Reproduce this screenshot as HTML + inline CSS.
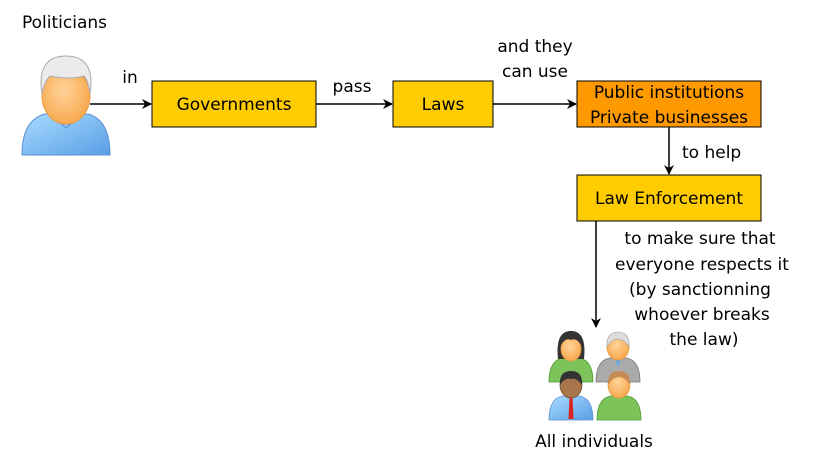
<!DOCTYPE html>
<html><head><style>body{margin:0;background:#fff}svg{display:block}text{font-family:"DejaVu Sans","Liberation Sans",sans-serif;font-size:17px;fill:#000}</style></head><body>
<svg width="815" height="472" viewBox="0 0 815 472">
<defs>
<marker id="a" markerWidth="10" markerHeight="10" refX="9" refY="5" orient="auto" markerUnits="userSpaceOnUse"><path d="M0,0 L10,5 L0,10 L3,5z" fill="#000"/></marker>
<linearGradient id="sh" x1="0" y1="0" x2="1" y2="1"><stop offset="0" stop-color="#a8dcff"/><stop offset="1" stop-color="#5a9ee6"/></linearGradient>
<radialGradient id="fc" cx="0.45" cy="0.4" r="0.6"><stop offset="0" stop-color="#ffd39a"/><stop offset="1" stop-color="#f8a94e"/></radialGradient>
</defs>
<text x="22" y="28">Politicians</text>
<path d="M22,155 Q22,120 45,114 L88,114 Q110,120 110,155z" fill="url(#sh)" stroke="#5a8fd0"/>
<path d="M50,114 L66,128 L82,114" fill="#8cc6f5" stroke="#5a8fd0"/>
<ellipse cx="66" cy="96" rx="24" ry="28" fill="url(#fc)" stroke="#e89a40"/>
<path d="M42,94 Q36,56 66,56 Q96,56 90,94 Q88,80 84,76 Q70,80 50,76 Q44,82 42,94z" fill="#ebebeb" stroke="#aaa"/>
<g stroke="#000" stroke-width="1.5" fill="none">
<line x1="90" y1="104" x2="151" y2="104" marker-end="url(#a)"/>
<line x1="316" y1="104" x2="392" y2="104" marker-end="url(#a)"/>
<line x1="493" y1="104" x2="576" y2="104" marker-end="url(#a)"/>
<line x1="669" y1="127" x2="669" y2="174" marker-end="url(#a)"/>
<line x1="596" y1="221" x2="596" y2="327" marker-end="url(#a)"/>
</g>
<rect x="152" y="81" width="164" height="46" fill="#ffcc00" stroke="#000"/>
<rect x="393" y="81" width="100" height="46" fill="#ffcc00" stroke="#000"/>
<rect x="577" y="81" width="184" height="46" fill="#ff9900" stroke="#000"/>
<rect x="577" y="175" width="184" height="46" fill="#ffcc00" stroke="#000"/>
<g text-anchor="middle">
<text x="234" y="110">Governments</text>
<text x="443" y="110">Laws</text>
<text x="669" y="98">Public institutions</text>
<text x="669" y="123">Private businesses</text>
<text x="669" y="204">Law Enforcement</text>
<text x="130" y="83">in</text>
<text x="352" y="92">pass</text>
<text x="535" y="52">and they</text>
<text x="535" y="77">can use</text>
<text x="700" y="244">to make sure that</text>
<text x="702" y="270">everyone respects it</text>
<text x="700" y="295">(by sanctionning</text>
<text x="702" y="320">whoever breaks</text>
<text x="704" y="345">the law)</text>
<text x="594" y="447">All individuals</text>
</g>
<text x="682" y="158">to help</text>
<!-- group -->
<g transform="translate(571,355)"><path d="M-22,27 Q-22,5 -8,3 L8,3 Q22,5 22,27z" fill="#7cc35a" stroke="#4a9a30" stroke-width="0.8"/><path d="M-13,4 Q-16,-24 0,-24 Q16,-24 13,4z" fill="#333"/><ellipse cx="0" cy="-6" rx="10" ry="12" fill="url(#fc)" stroke="#e89a40" stroke-width="0.8"/><path d="M-11,-8 Q-12,-24 0,-24 Q12,-24 11,-8 Q6,-18 0,-15 Q-6,-18 -11,-8z" fill="#333"/></g>
<g transform="translate(618,355)"><path d="M-22,27 Q-22,5 -8,3 L8,3 Q22,5 22,27z" fill="#aaa" stroke="#777" stroke-width="0.8"/><path d="M-4,3 L4,3 L0,12z" fill="#6aa6e6"/><ellipse cx="0" cy="-8" rx="11" ry="13" fill="url(#fc)" stroke="#e89a40" stroke-width="0.8"/><path d="M-11,-8 Q-12,-23 0,-23 Q12,-23 11,-8 Q6,-16 0,-16 Q-6,-16 -11,-8z" fill="#ddd" stroke="#999" stroke-width="0.6"/></g>
<g transform="translate(571,393)"><path d="M-22,27 Q-22,5 -8,3 L8,3 Q22,5 22,27z" fill="url(#sh)" stroke="#5a8fd0" stroke-width="0.8"/><path d="M-1.5,4 L1.5,4 L2.5,26 L-2.5,26z" fill="#d22"/><ellipse cx="0" cy="-8" rx="11" ry="13" fill="#a8764a" stroke="#7a5030" stroke-width="0.8"/><path d="M-11,-8 Q-12,-22 0,-22 Q12,-22 11,-8 Q5,-16 0,-14 Q-6,-16 -11,-8z" fill="#333"/></g>
<g transform="translate(619,393)"><path d="M-22,27 Q-22,5 -8,3 L8,3 Q22,5 22,27z" fill="#7cc35a" stroke="#4a9a30" stroke-width="0.8"/><ellipse cx="0" cy="-8" rx="11" ry="13" fill="url(#fc)" stroke="#e89a40" stroke-width="0.8"/><path d="M-11,-8 Q-12,-22 0,-22 Q12,-22 11,-8 Q6,-16 0,-16 Q-6,-16 -11,-8z" fill="#c58a55"/></g>
</svg>
</body></html>
